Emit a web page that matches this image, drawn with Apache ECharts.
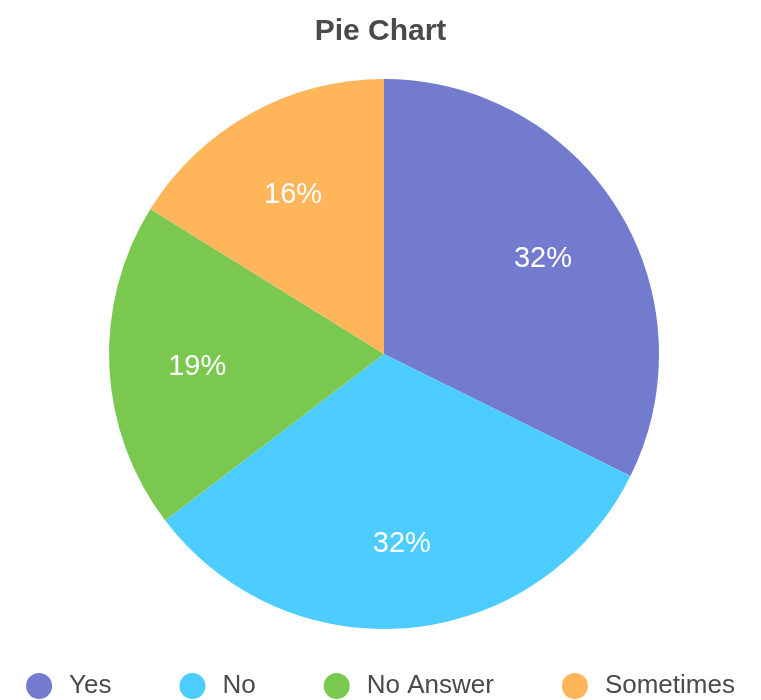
<!DOCTYPE html>
<html>
<head>
<meta charset="utf-8">
<script src="https://cdn.jsdelivr.net/npm/echarts@6/dist/echarts.min.js"></script>
<style>
  html, body { margin: 0; padding: 0; background: #fff; }
  #chart { width: 761px; height: 700px; }
</style>
</head>
<body>
<div id="chart"></div>
<script>
// Survey answers
var categories = ['Yes', 'No', 'No Answer', 'Sometimes'];
var values = [32, 32, 19, 16];
var colors = ['#727bce', '#4dcdff', '#7bc850', '#ffb55a'];

var data = categories.map(function (name, i) {
  return { name: name, value: values[i], itemStyle: { color: colors[i] } };
});

var FONT = 'Liberation Sans, Arial, sans-serif';

var chart = echarts.init(document.getElementById('chart'));
chart.setOption({
  animation: false,
  title: {
    text: 'Pie Chart',
    left: 'center',
    top: 12,
    textStyle: { fontFamily: FONT, fontSize: 30, fontWeight: 'bold', color: '#4a4a4a' }
  },
  legend: {
    data: categories,
    bottom: -4,
    left: 'center',
    icon: 'circle',
    itemWidth: 26,
    itemHeight: 26,
    itemGap: 68,
    textStyle: { fontFamily: FONT, fontSize: 26, color: '#4a4a4a', padding: [0, 0, 0, 12] }
  },
  series: [
    {
      // filled slices
      type: 'pie',
      center: [384, 354],
      radius: [0, 275],
      startAngle: 90,
      clockwise: true,
      silent: true,
      label: { show: false },
      labelLine: { show: false },
      data: data
    },
    {
      // percentage labels, placed on a transparent ring so they sit outward
      type: 'pie',
      center: [384, 358],
      radius: [93, 275],
      startAngle: 90,
      clockwise: true,
      silent: true,
      legendHoverLink: false,
      percentPrecision: 2,
      itemStyle: { color: 'rgba(0,0,0,0)' },
      label: {
        show: true,
        position: 'inside',
        // each share rounded on its own
        formatter: function (p) { return Math.round(p.percent) + '%'; },
        fontFamily: FONT,
        fontSize: 29,
        color: '#fff'
      },
      labelLine: { show: false },
      data: values.map(function (v, i) {
        return { name: categories[i] + ' ', value: v, itemStyle: { color: 'rgba(0,0,0,0)' } };
      })
    }
  ]
});
</script>
</body>
</html>
